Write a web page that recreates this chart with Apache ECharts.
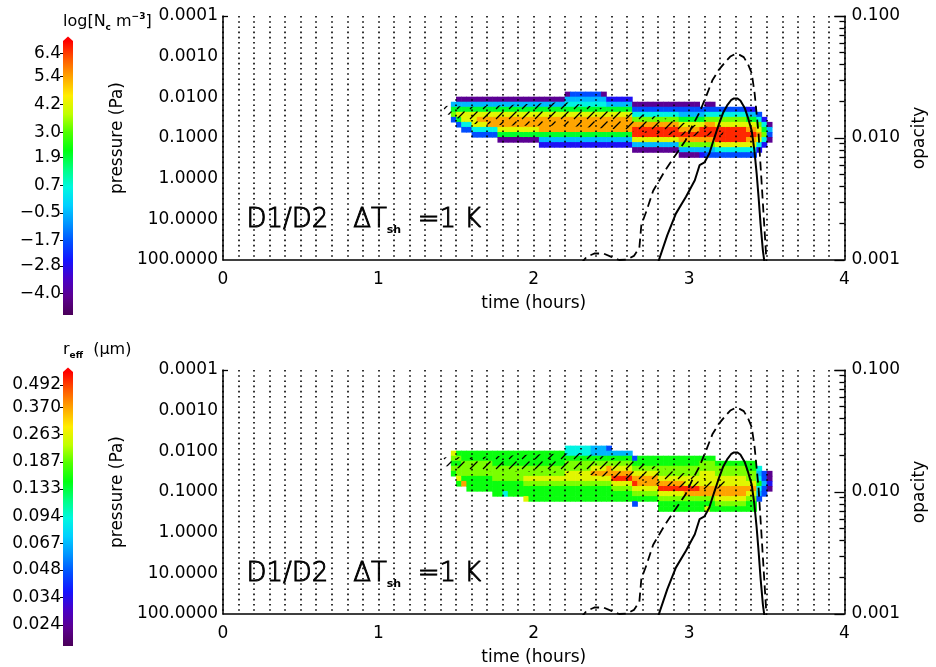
<!DOCTYPE html>
<html><head><meta charset="utf-8">
<script src="https://cdn.jsdelivr.net/npm/echarts@6/dist/echarts.min.js"></script>
<style>html,body{margin:0;padding:0;background:#fff}#c{width:936px;height:667px}</style>
</head><body><div id="c"></div>
<script>
// ---------------- data ----------------
const timeTicks = [0, 1, 2, 3, 4];
const ncTicks = [-4.0, -2.8, -1.7, -0.5, 0.7, 1.9, 3.0, 4.2, 5.4, 6.4];
const reffTicks = [0.024, 0.034, 0.048, 0.067, 0.094, 0.133, 0.187, 0.263, 0.370, 0.492];
const opacityMinorTicks = [0.002,0.003,0.004,0.005,0.006,0.007,0.008,0.009,0.02,0.03,0.04,0.05,0.06,0.07,0.08,0.09];
const pressureTopTick = [0.0001];

// model grid: 2-minute columns starting at 1.4667 h; pressure row edges (Pa)
const cellT0 = 1.4667, cellDt = 0.03333;
const pEdges = [0.007244,0.009638,0.012823,0.017061,0.022699,0.030200,0.040179,0.053456,0.071121,0.094624,0.125893,0.167494,0.222844,0.296483,0.394457];

// colour-level codes per time column (rows top->bottom), '.' = no cloud
const ncLevels = [-4.1, -2.7, -1.8, -0.5, 0.5, 2.0, 3.2, 4.2, 5.4, 6.6];
const ncColumns = [
"..3562........",".035752.......",".0357742......",".0357742......",".03577742.....",".03578742.....",
".03578742.....",".03578842.....",".03578842.....",".035788750....",".035788750....",".035788750....",
".035788750....",".035788750....",".035788750....",".035788750....",".035788750....",".0357888531...",
".0357888531...",".0357888531...",".0357888531...",".0357888531...","03457888531...","23457888531...",
"23457888531...","23457888531...","23457888531...","23457888531...","23457888531...","03457888531...",
".1357888531...",".1357888531...",".1357888531...",".1357888531...",".1357888531...","..0246899730..",
"..0246899730..","..0246899730..","..0246899730..","..0246899730..","..0246899730..","..0246899730..",
"..0246899730..","..0246899730..","..02357898630.","..02357898630.","..02357898630.","..02357898630.",
"...2357998631.","..02468998632.","..02468998632.","...2467999742.","...2467999742.","...2467999742.",
"...2467999742.","...2467999742.","...2467999742.","...1357898742.","...1357898742.","....24678741..",
".....145641...","......0320...."
];
const reffLevels = [0.023, 0.035, 0.045, 0.066, 0.090, 0.150, 0.20, 0.26, 0.37, 0.52];
const reffColumns = [
".76565........",".5656675......",".5566658......",".55666555.....",".55666555.....",".55666555.....",
".55666555.....",".55666555.....",".555666555....",".555666555....",".555666554....",".555666555....",
".555666555....",".555666555....",".5556676557...",".5556676555...",".5556676555...",".5556676555...",
".5556676555...",".5556676555...",".5556676555...",".5556676555...","44566776555...","44566776555...",
"44566776555...","44566776555...","44566776555...","33567876555...","33567876555...","33567876555...",
"23568876555...",".3567897655...",".3567897655...",".3567897655...",".3567897655...","..2567897652..",
"..556788765...","..556788765...","..556788765...","..556788765...","..55667897655.","..55667897655.",
"..55667897655.","..55667897655.","..55667897655.","..55667798655.","..55667798655.","..55667798655.",
"..56677788655.","..56677788657.","..56677788655.","...5667788765.","...5667788765.","...5667788765.",
"...5667788765.","...5667788765.","...5667788765.","...5566787655.","...5566787655.","....4345432...",
".....22322....",".....0010....."
];

// opacity curves
const solidTime = [2.80,2.86,2.915,2.98,3.037,3.068,3.099,3.131,3.16,3.194,3.22,3.245,3.27,3.289,3.31,3.33,3.359,3.38,3.403,3.42,3.435,3.448,3.46,3.475,3.487];
const solidOpacity = [0.00095,0.0016,0.0024,0.0033,0.0045,0.0060,0.0063,0.0075,0.0098,0.0132,0.0162,0.0185,0.0204,0.0211,0.0211,0.0203,0.0175,0.0145,0.0115,0.0080,0.0051,0.0032,0.00198,0.0012,0.00092];
const dashTime = [2.30,2.34,2.39,2.45,2.50,2.55,2.60,2.645,2.68,2.693,2.725,2.769,2.845,2.877,2.93,2.978,3.02,3.067,3.11,3.15,3.19,3.232,3.265,3.295,3.325,3.352,3.38,3.403,3.422,3.447,3.466,3.485,3.50];
const dashOpacity = [0.00092,0.00106,0.00113,0.00113,0.00106,0.00100,0.00101,0.00108,0.00126,0.00195,0.0025,0.0037,0.0054,0.0062,0.0078,0.0096,0.0125,0.0162,0.022,0.0297,0.036,0.0418,0.0465,0.0487,0.048,0.046,0.040,0.034,0.0232,0.0109,0.0045,0.00183,0.0009];

// hatched regions (time h, top / bottom pressure Pa)
const hatchTopTime = [1.42,1.6,1.9,2.2,2.5,2.8,3.0,3.22];
const hatchTopUpper = [0.016,0.017,0.015,0.013,0.020,0.030,0.045,0.060];
const hatchTopLower = [0.024,0.045,0.050,0.050,0.060,0.080,0.090,0.085];
const hatchBotTime = [1.40,1.6,2.0,2.3,2.6,2.9,3.1,3.25];
const hatchBotUpper = [0.014,0.014,0.012,0.011,0.016,0.030,0.045,0.050];
const hatchBotLower = [0.022,0.030,0.032,0.035,0.050,0.075,0.085,0.080];

const rainbow = ['#4a0058','#5c0090','#4800c8','#1414ff','#0050ff','#0094ff','#00d0ff','#00f8e0','#00ff80','#00ff10','#50ff00','#c0ff00','#ffee00','#ffa800','#ff5a00','#ff0000'];
const ncRange = [-4.93, 6.95];
const reffRange = [0.0184, 0.579];

// ---------------- build ----------------
function cells(cols, levels, logv) {
  const out = [];
  cols.forEach((s, c) => {
    for (let r = 0; r < s.length; r++) {
      const ch = s[r];
      if (ch === '.') continue;
      const v = levels[+ch];
      out.push([cellT0 + c * cellDt, cellT0 + (c + 1) * cellDt, pEdges[r], pEdges[r + 1], logv ? Math.log10(v) : v]);
    }
  });
  return out;
}
function renderCell(params, api) {
  const a = api.coord([api.value(0), api.value(2)]);
  const b = api.coord([api.value(1), api.value(3)]);
  return {type: 'rect', shape: {x: Math.min(a[0], b[0]), y: Math.min(a[1], b[1]), width: Math.abs(b[0] - a[0]) + 0.6, height: Math.abs(b[1] - a[1]) + 0.6},
          style: {fill: api.visual('color')}};
}
const hatchCanvas = document.createElement('canvas');
hatchCanvas.width = 13; hatchCanvas.height = 10;
(function () { const g = hatchCanvas.getContext('2d'); g.strokeStyle = '#000'; g.lineWidth = 1.3; g.beginPath(); g.moveTo(2, 9); g.lineTo(9.5, 1.5); g.stroke(); })();

function hatchSeries(xi, yi, times, upper, lower) {
  return {
    type: 'custom', xAxisIndex: xi, yAxisIndex: yi, z: 4, silent: true,
    data: times.map((t, i) => [t, upper[i], lower[i]]),
    renderItem: function (params, api) {
      if (params.dataIndex !== 0) return null;
      const pts = [];
      for (let i = 0; i < times.length; i++) pts.push(api.coord([times[i], upper[i]]));
      for (let i = times.length - 1; i >= 0; i--) pts.push(api.coord([times[i], lower[i]]));
      return {type: 'polygon', shape: {points: pts}, style: {fill: {image: hatchCanvas, repeat: 'repeat'}, stroke: null}};
    }
  };
}

const FONT = 'DejaVu Sans';
const txt = {color: '#000', fontFamily: FONT, fontSize: 17};
const dotLine = {color: '#000', width: 1.6, type: [1.6, 3.6]};

function mainX(gi) {
  return {
    type: 'value', gridIndex: gi, min: 0, max: 4, interval: 1, z: 3,
    axisLine: {show: true, onZero: false, lineStyle: {color: '#000', width: 1.5}},
    axisTick: {show: false},
    axisLabel: Object.assign({margin: 11, customValues: timeTicks}, txt),
    splitLine: {show: true, lineStyle: dotLine},
    minorTick: {show: false, splitNumber: 10},
    minorSplitLine: {show: true, lineStyle: dotLine},
    name: 'time (hours)', nameLocation: 'middle', nameGap: 35, nameTextStyle: txt
  };
}
function pressY(gi) {
  return {
    type: 'log', gridIndex: gi, min: 0.0001, max: 100, inverse: true, position: 'left', logBase: 10,
    axisLine: {show: true, lineStyle: {color: '#000', width: 1.5}},
    axisTick: {show: true, inside: true, length: 5, customValues: pressureTopTick, lineStyle: {color: '#000', width: 1.3}},
    splitLine: {show: false},
    axisLabel: Object.assign({margin: 5, formatter: v => v.toFixed(4)}, txt),
    name: 'pressure (Pa)', nameLocation: 'middle', nameRotate: 90, nameGap: 91, nameTextStyle: txt
  };
}
function opacY(gi) {
  return {
    type: 'log', gridIndex: gi, min: 0.001, max: 0.1, position: 'right', logBase: 10,
    axisLine: {show: true, lineStyle: {color: '#000', width: 1.5}},
    axisTick: {show: true, inside: true, length: 5, customValues: opacityMinorTicks, lineStyle: {color: '#000', width: 1.3}},
    splitLine: {show: false},
    axisLabel: Object.assign({margin: 7, formatter: v => v.toFixed(3)}, txt),
    name: 'opacity', nameLocation: 'middle', nameRotate: 90, nameGap: 66, nameTextStyle: txt
  };
}
function opacMajorY(gi) {
  return {
    type: 'log', gridIndex: gi, min: 0.001, max: 0.1, position: 'right', logBase: 10,
    axisLine: {show: false}, splitLine: {show: false}, axisLabel: {show: false},
    axisTick: {show: true, inside: true, length: 10, lineStyle: {color: '#000', width: 1.3}}
  };
}
function lineSeries(xi, yi, times, vals, dashed) {
  return {
    type: 'line', xAxisIndex: xi, yAxisIndex: yi, z: 5, showSymbol: false, silent: true, clip: true,
    data: times.map((t, i) => [t, vals[i]]),
    lineStyle: {color: '#000', width: dashed ? 1.8 : 2, type: dashed ? [9, 5] : 'solid'}
  };
}
const heatDims = ['t0', 't1', 'p0', 'p1', 'v'];

const gradStops = rainbow.map((c, i) => ({offset: i / (rainbow.length - 1), color: c}));
function colorbarGraphics(top) {
  return [
    {type: 'rect', shape: {x: 63, y: top, width: 10, height: 274}, style: {fill: new echarts.graphic.LinearGradient(0, 1, 0, 0, gradStops)}, z: 1},
    {type: 'polygon', shape: {points: [[63, top], [73, top], [68, top - 4.5]]}, style: {fill: '#ff0000'}, z: 1}
  ];
}
const annot = {
  a: {fontFamily: FONT, fontSize: 26, fontWeight: 200, fill: '#000', stroke: '#000', lineWidth: 0.9, lineHeight: 30},
  s: {fontFamily: FONT, fontSize: 11, fontWeight: 'bold', fill: '#000', lineHeight: 12, verticalAlign: 'bottom'}
};
const cbRich = {
  a: {fontFamily: FONT, fontSize: 16, fill: '#000', lineHeight: 20},
  sub: {fontFamily: FONT, fontSize: 9, fontWeight: 'bold', fill: '#000', lineHeight: 9, verticalAlign: 'bottom'},
  sup: {fontFamily: FONT, fontSize: 9, fontWeight: 'bold', fill: '#000', lineHeight: 9, verticalAlign: 'top'}
};

const option = {
  animation: false,
  backgroundColor: '#fff',
  grid: [
    {left: 223, top: 16, width: 631, height: 244},
    {left: 223, top: 370, width: 631, height: 244},
    {left: 63, top: 41, width: 10, height: 274},
    {left: 63, top: 372, width: 10, height: 274}
  ],
  xAxis: [mainX(0), mainX(1),
    {type: 'value', gridIndex: 2, show: false, min: 0, max: 1},
    {type: 'value', gridIndex: 3, show: false, min: 0, max: 1}],
  yAxis: [pressY(0), opacY(0), opacMajorY(0), pressY(1), opacY(1), opacMajorY(1),
    {type: 'value', gridIndex: 2, min: ncRange[0], max: ncRange[1], position: 'left',
     axisLine: {show: false}, splitLine: {show: false},
     axisTick: {show: true, length: 3, customValues: ncTicks, lineStyle: {color: '#000'}},
     axisLabel: Object.assign({margin: 2, customValues: ncTicks, formatter: v => (v < 0 ? '\u2212' : '') + Math.abs(v).toFixed(1)}, txt)},
    {type: 'log', gridIndex: 3, min: reffRange[0], max: reffRange[1], position: 'left', logBase: 10,
     axisLine: {show: false}, splitLine: {show: false},
     axisTick: {show: true, length: 3, customValues: reffTicks, lineStyle: {color: '#000'}},
     axisLabel: Object.assign({margin: 2, customValues: reffTicks, formatter: v => v.toFixed(3)}, txt)}
  ],
  visualMap: [
    {type: 'continuous', show: false, seriesIndex: 0, dimension: 4, min: ncRange[0], max: ncRange[1], inRange: {color: rainbow}},
    {type: 'continuous', show: false, seriesIndex: 1, dimension: 4, min: Math.log10(reffRange[0]), max: Math.log10(reffRange[1]), inRange: {color: rainbow}}
  ],
  graphic: [].concat(colorbarGraphics(41), colorbarGraphics(372), [
    {type: 'text', left: 63, top: 12, style: {text: '{a|log[N}{sub|c}{a| m}{sup|\u22123}{a|]}', rich: cbRich}},
    {type: 'text', left: 63, top: 342, style: {text: '{a|r}{sub|eff}{a|  (\u03bcm)}', rich: cbRich}},
    {type: 'text', left: 246, top: 207, z: 6, style: {text: '{a|D1/D2   \u0394T}{s|sh}{a|  =1 K}', rich: annot}},
    {type: 'text', left: 246, top: 561, z: 6, style: {text: '{a|D1/D2   \u0394T}{s|sh}{a|  =1 K}', rich: annot}}
  ]),
  series: [
    {type: 'custom', name: 'Nc', xAxisIndex: 0, yAxisIndex: 0, z: 1, silent: true, dimensions: heatDims,
     encode: {x: ['t0', 't1'], y: ['p0', 'p1']}, data: cells(ncColumns, ncLevels, false), renderItem: renderCell},
    {type: 'custom', name: 'reff', xAxisIndex: 1, yAxisIndex: 3, z: 1, silent: true, dimensions: heatDims,
     encode: {x: ['t0', 't1'], y: ['p0', 'p1']}, data: cells(reffColumns, reffLevels, true), renderItem: renderCell},
    hatchSeries(0, 0, hatchTopTime, hatchTopUpper, hatchTopLower),
    hatchSeries(1, 3, hatchBotTime, hatchBotUpper, hatchBotLower),
    lineSeries(0, 1, solidTime, solidOpacity, false),
    lineSeries(0, 1, dashTime, dashOpacity, true),
    lineSeries(1, 4, solidTime, solidOpacity, false),
    lineSeries(1, 4, dashTime, dashOpacity, true)
  ]
};
const chart = echarts.init(document.getElementById('c'), null, {renderer: 'canvas'});
chart.setOption(option);
</script></body></html>
